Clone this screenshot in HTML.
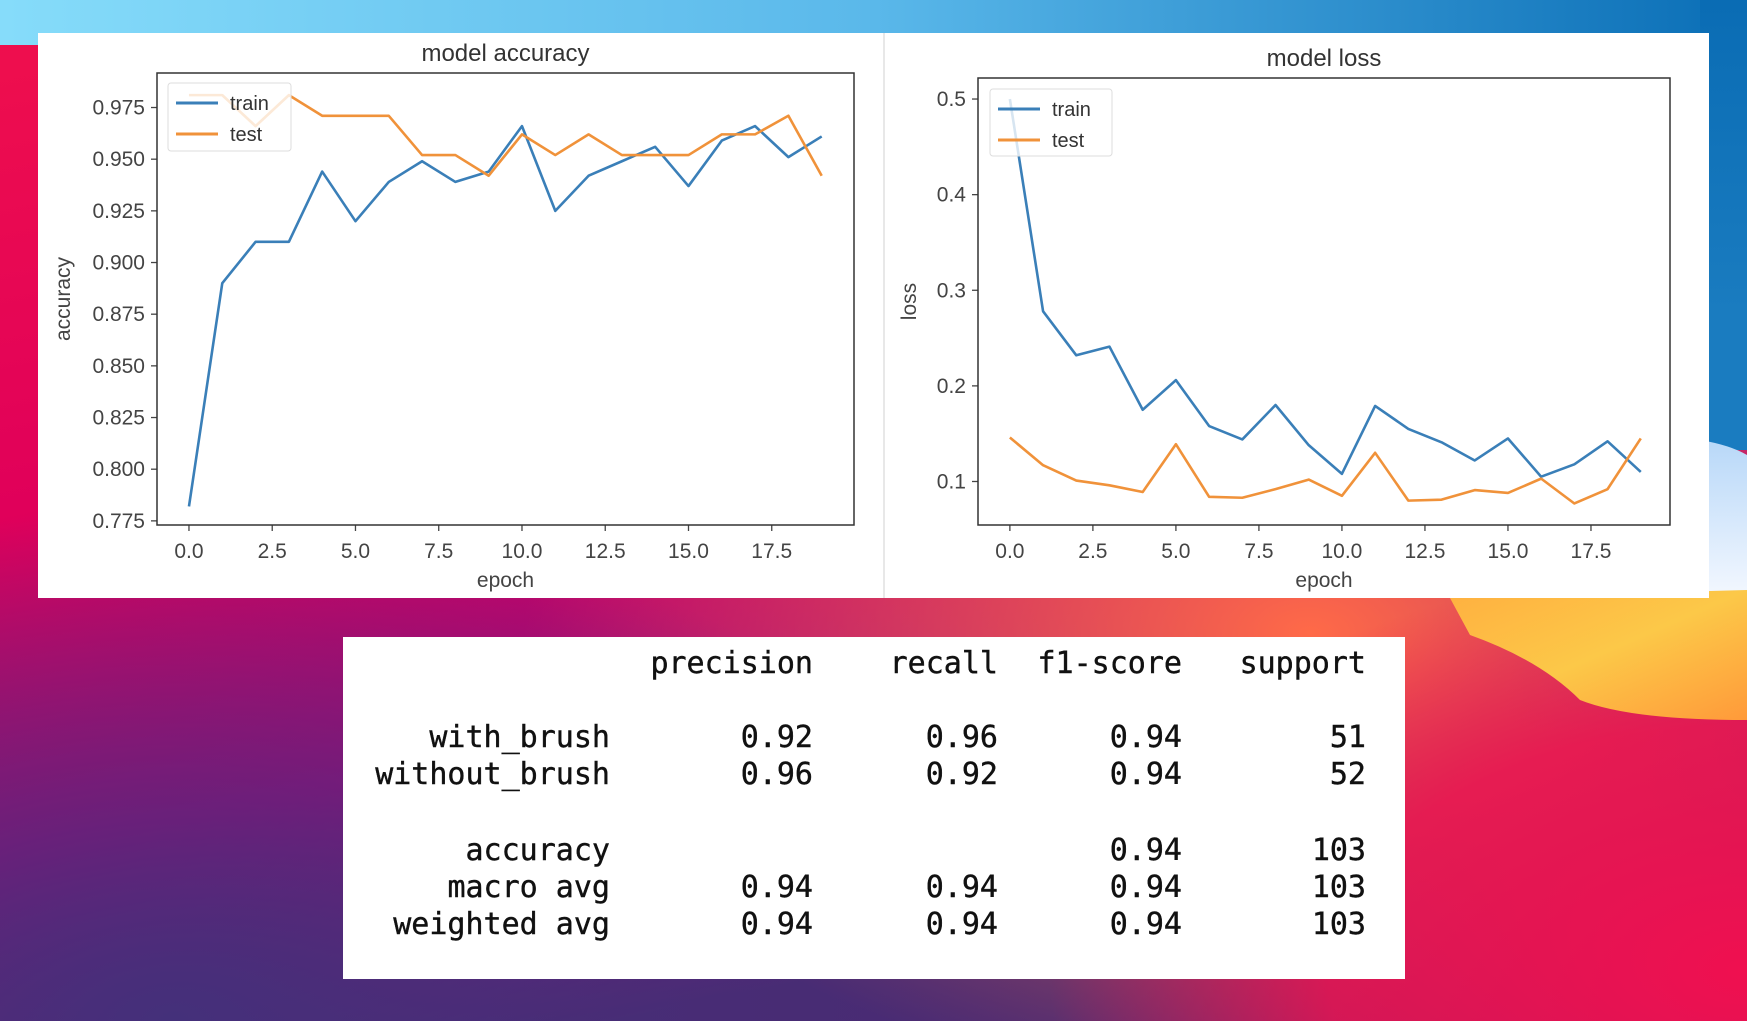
<!DOCTYPE html>
<html><head><meta charset="utf-8"><style>
html,body{margin:0;padding:0;width:1747px;height:1021px;overflow:hidden;}
svg{display:block;}
</style></head><body>
<svg id="root" width="1747" height="1021" xmlns="http://www.w3.org/2000/svg">
<defs>
<linearGradient id="topband" x1="0" y1="0" x2="1" y2="0">
<stop offset="0" stop-color="#86dcfa"/><stop offset="0.5" stop-color="#5ab8ea"/><stop offset="1" stop-color="#0a6eb6"/></linearGradient>
<linearGradient id="base" x1="0" y1="0" x2="0.35" y2="1">
<stop offset="0" stop-color="#f0104c"/><stop offset="0.45" stop-color="#e0005a"/><stop offset="0.75" stop-color="#a0087a"/><stop offset="1" stop-color="#4a2a72"/></linearGradient>
<radialGradient id="orange" cx="0.75" cy="0.62" r="0.45">
<stop offset="0" stop-color="#ff6a48"/><stop offset="1" stop-color="#ff6a48" stop-opacity="0"/></radialGradient>
<radialGradient id="redbr" cx="1" cy="0.95" r="0.4">
<stop offset="0" stop-color="#f01050"/><stop offset="0.6" stop-color="#f01050" stop-opacity="0.8"/><stop offset="1" stop-color="#f01050" stop-opacity="0"/></radialGradient>
<radialGradient id="purp" cx="0.1" cy="1" r="0.5">
<stop offset="0" stop-color="#44307a"/><stop offset="1" stop-color="#44307a" stop-opacity="0"/></radialGradient>
<linearGradient id="rblue" x1="0" y1="0" x2="0" y2="1">
<stop offset="0" stop-color="#0a6cb4"/><stop offset="0.7" stop-color="#1a7cc0"/><stop offset="1" stop-color="#1a7cc0"/></linearGradient>
<linearGradient id="rlight" x1="0" y1="0" x2="0" y2="1">
<stop offset="0" stop-color="#b8d8f8"/><stop offset="1" stop-color="#f4f8ff"/></linearGradient>
<linearGradient id="yel" x1="0" y1="0" x2="1" y2="1">
<stop offset="0" stop-color="#ffb040"/><stop offset="0.5" stop-color="#fcc848"/><stop offset="1" stop-color="#ff9a3a"/></linearGradient>
</defs>
<g>
<rect width="1747" height="1021" fill="url(#base)"/>
<rect width="1747" height="1021" fill="url(#orange)"/>
<rect width="1747" height="1021" fill="url(#redbr)"/>
<rect width="1747" height="1021" fill="url(#purp)"/>
<rect x="0" y="0" width="1747" height="45" fill="url(#topband)"/>
<rect x="1700" y="0" width="47" height="450" fill="url(#rblue)"/>
<path d="M1700,440 Q1730,445 1747,455 L1747,600 L1700,600 Z" fill="url(#rlight)"/>
<path d="M1450,598 L1747,590 L1747,720 Q1630,720 1580,700 Q1540,660 1470,635 Z" fill="url(#yel)"/>
</g>
<rect x="38" y="33" width="1671" height="565" fill="#ffffff"/>
<line x1="884" y1="33" x2="884" y2="598" stroke="#d0d0d0" stroke-width="1"/>
<g id="acc"></g>
<g id="loss"></g>
<rect x="343" y="637" width="1062" height="342" fill="#ffffff"/>
<g id="table" font-family="'DejaVu Sans Mono','Liberation Mono',monospace" font-size="30" fill="#111" stroke="#111" stroke-width="0.4" text-anchor="end"></g>
</svg>
<script>
const epochs = [0,1,2,3,4,5,6,7,8,9,10,11,12,13,14,15,16,17,18,19];
const accTrain = [0.782,0.890,0.910,0.910,0.944,0.920,0.939,0.949,0.939,0.944,0.966,0.925,0.942,0.949,0.956,0.937,0.959,0.966,0.951,0.961];
const accTest = [0.981,0.981,0.966,0.981,0.971,0.971,0.971,0.952,0.952,0.942,0.962,0.952,0.962,0.952,0.952,0.952,0.962,0.962,0.971,0.942];
const lossTrain = [0.500,0.278,0.232,0.241,0.175,0.206,0.158,0.144,0.180,0.138,0.108,0.179,0.155,0.141,0.122,0.145,0.105,0.118,0.142,0.110];
const lossTest = [0.146,0.117,0.101,0.096,0.089,0.139,0.084,0.083,0.092,0.102,0.085,0.130,0.080,0.081,0.091,0.088,0.103,0.077,0.092,0.145];
const xTicks = [0,2.5,5,7.5,10,12.5,15,17.5];
const xTickLabels = ["0.0","2.5","5.0","7.5","10.0","12.5","15.0","17.5"];
const accTicks = [0.775,0.800,0.825,0.850,0.875,0.900,0.925,0.950,0.975];
const accTickLabels = ["0.775","0.800","0.825","0.850","0.875","0.900","0.925","0.950","0.975"];
const lossTicks = [0.1,0.2,0.3,0.4,0.5];
const lossTickLabels = ["0.1","0.2","0.3","0.4","0.5"];
const reportHeader = ["precision","recall","f1-score","support"];
const reportRows = [
 ["with_brush","0.92","0.96","0.94","51"],
 ["without_brush","0.96","0.92","0.94","52"],
 null,
 ["accuracy","","","0.94","103"],
 ["macro avg","0.94","0.94","0.94","103"],
 ["weighted avg","0.94","0.94","0.94","103"]
];

const NS="http://www.w3.org/2000/svg";
function mk(tag,attrs,parent){const e=document.createElementNS(NS,tag);for(const k in attrs)e.setAttribute(k,attrs[k]);parent.appendChild(e);return e;}

function chart(g,cfg){
  const {L,R,T,B,xmin,xmax,ymin,ymax}=cfg;
  const sx=v=>L+(v-xmin)/(xmax-xmin)*(R-L);
  const sy=v=>B-(v-ymin)/(ymax-ymin)*(B-T);
  const font="'Liberation Sans',sans-serif";
  const t=mk('text',{x:(L+R)/2,y:T-12,'text-anchor':'middle','font-family':font,'font-size':24,fill:'#333'},g);
  t.textContent=cfg.title;
  
  
  xTicks.forEach((v,i)=>{
    const l=mk('line',{x1:sx(v),x2:sx(v),y1:B,y2:B+6,stroke:'#444','stroke-width':1.3},g);
    
    
    const tx=mk('text',{x:sx(v),y:B+33,'text-anchor':'middle','font-family':font,'font-size':21,fill:'#444'},g);
    tx.textContent=xTickLabels[i];
    
    
  });
  cfg.yt.forEach((v,i)=>{
    const l=mk('line',{x1:L-6,x2:L,y1:sy(v),y2:sy(v),stroke:'#444','stroke-width':1.3},g);
    
    
    const tx=mk('text',{x:L-12,y:sy(v)+7,'text-anchor':'end','font-family':font,'font-size':21,fill:'#444'},g);
    tx.textContent=cfg.ytl[i];
    
    
  });
  const xl=mk('text',{x:(L+R)/2,y:B+62,'text-anchor':'middle','font-family':font,'font-size':21,fill:'#444'},g);
  xl.textContent='epoch';
  
  
  const yl=mk('text',{x:cfg.ylx,y:(T+B)/2,'text-anchor':'middle','font-family':font,'font-size':21,fill:'#444',transform:`rotate(-90 ${cfg.ylx} ${(T+B)/2})`},g);
  yl.textContent=cfg.ylabel;
  
  
  const series=[[cfg.train,'#3a7fb8','train-line'],[cfg.test,'#f0923a','test-line']];
  series.forEach(([d,c,n])=>{
    const p=mk('polyline',{points:d.map((v,i)=>sx(epochs[i])+','+sy(v)).join(' '),fill:'none',stroke:c,'stroke-width':2.6,'stroke-linejoin':'round'},g);
    
    
  });
  const fr=mk('rect',{x:L,y:T,width:R-L,height:B-T,fill:'none',stroke:'#333','stroke-width':1.5},g);
  
  
  const lg=mk('g',{},g);
  
  
  const [lx,ly,lw,lh]=cfg.leg;
  mk('rect',{x:lx,y:ly,width:lw,height:lh,fill:'#fff','fill-opacity':0.8,stroke:'#ddd',rx:3},lg);
  [['train','#3a7fb8'],['test','#f0923a']].forEach(([n,c],i)=>{
    const yy=ly+20+i*31;
    const ll=mk('line',{x1:lx+8,x2:lx+50,y1:yy,y2:yy,stroke:c,'stroke-width':3},lg);
    
    
    const tt=mk('text',{x:lx+62,y:yy+7,'font-family':font,'font-size':20,fill:'#333'},lg);
    tt.textContent=n;
    
    
  });
}
chart(document.getElementById('acc'),{L:157,R:854,T:73,B:525,xmin:-0.96,xmax:19.97,ymin:0.773,ymax:0.9917,
  yt:accTicks,ytl:accTickLabels,train:accTrain,test:accTest,title:'model accuracy',ylabel:'accuracy',ylx:70,leg:[168,83,123,68]});
chart(document.getElementById('loss'),{L:978,R:1670,T:78,B:525,xmin:-0.96,xmax:19.88,ymin:0.0545,ymax:0.522,
  yt:lossTicks,ytl:lossTickLabels,train:lossTrain,test:lossTest,title:'model loss',ylabel:'loss',ylx:916,leg:[990,89,122,67]});

const tb=document.getElementById('table');
const colR=[610,813,998,1182,1366];
reportHeader.forEach((h,i)=>{
  const t=mk('text',{x:colR[i+1],y:673},tb);
  t.textContent=h;
  
  
});
const rowY=[747,784,0,860,897,934];
reportRows.forEach((r,ri)=>{
  if(!r)return;
  r.forEach((c,ci)=>{
    if(!c)return;
    const t=mk('text',{x:colR[ci],y:rowY[ri]},tb);
    t.textContent=c;
    
    
  });
});
</script>
</body></html>
